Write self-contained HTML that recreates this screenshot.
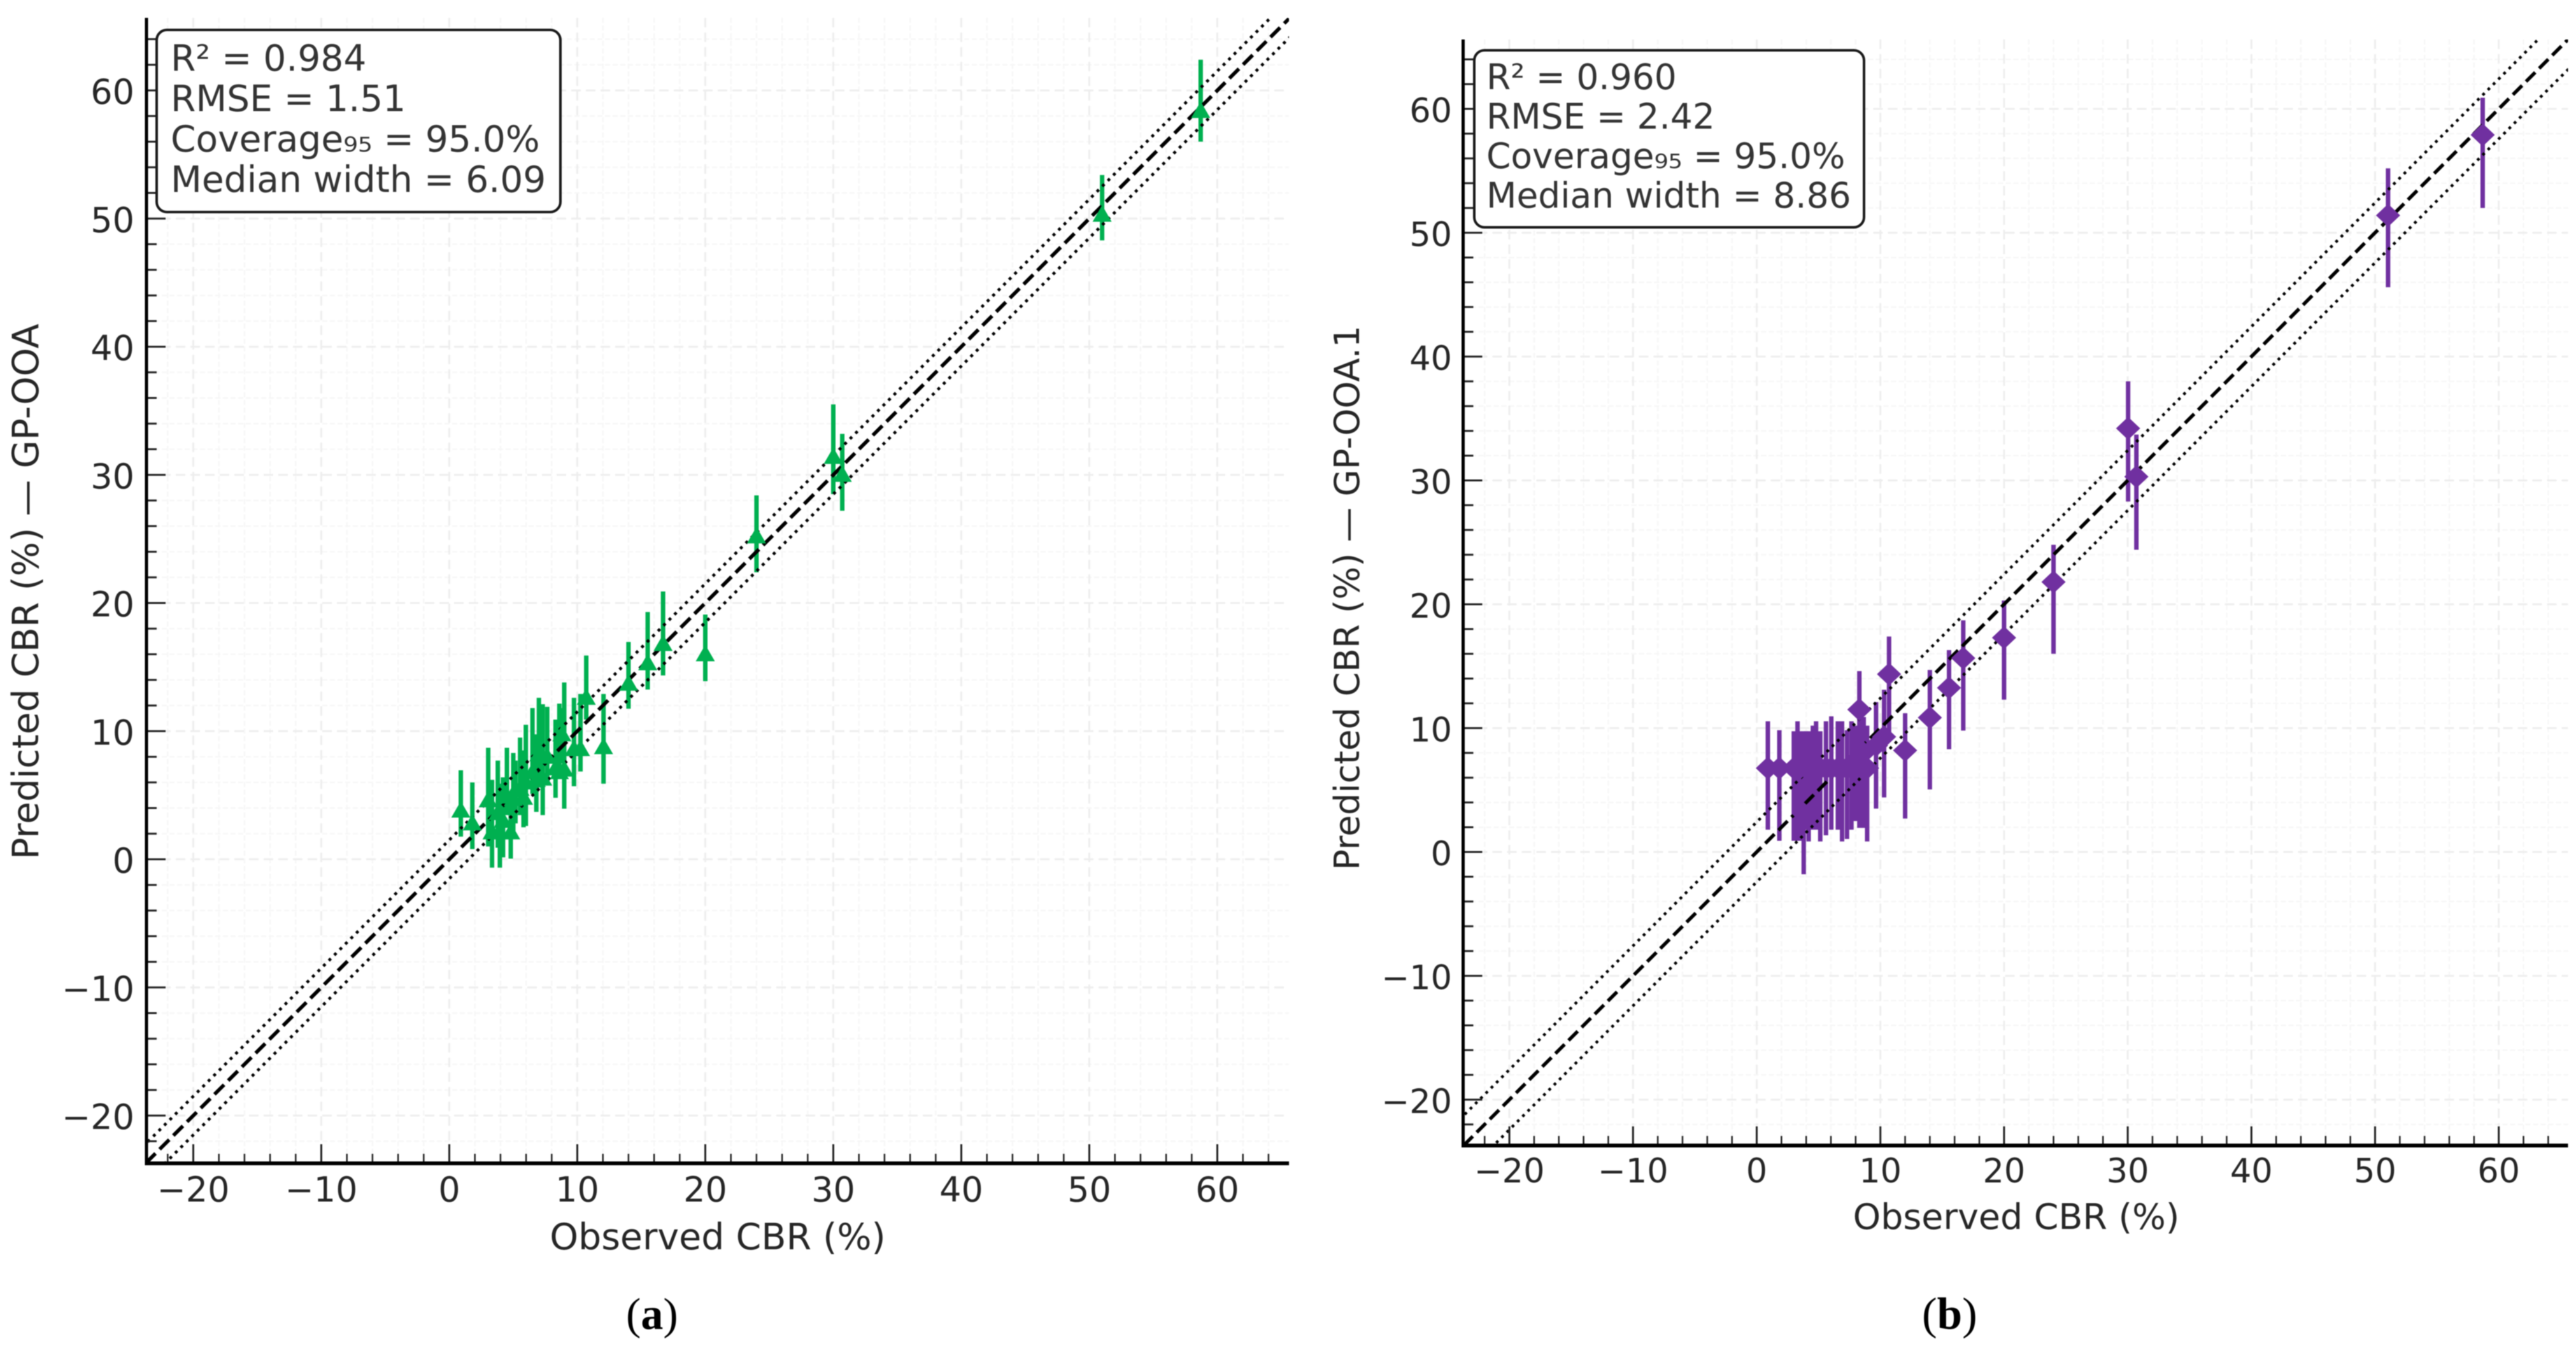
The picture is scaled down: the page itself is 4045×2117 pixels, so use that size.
<!DOCTYPE html>
<html lang="en">
<head>
<meta charset="utf-8">
<title>Observed vs predicted CBR: GP-OOA and GP-OOA.1</title>
<style>
html,body{margin:0;padding:0;background:#fff;}
svg{display:block;position:absolute;left:0;top:0;filter:blur(0.8px);}
text{font-family:"DejaVu Sans","Liberation Sans",sans-serif;}
.cap{font-family:"Liberation Serif",serif;fill:#000;}
</style>
</head>
<body>
<svg id="fig" xmlns="http://www.w3.org/2000/svg" width="4045" height="2117" viewBox="0 0 4045 2117">
  <rect x="0" y="0" width="4045" height="2117" fill="#ffffff"/>
  <g id="panel-a"></g>
  <g id="panel-b"></g>
  <text class="cap" x="983" y="2087" font-size="70">(<tspan font-weight="bold">a</tspan>)</text>
  <text class="cap" x="3018" y="2087" font-size="71">(<tspan font-weight="bold">b</tspan>)</text>
</svg>
<script>
// Shared tick labels
const majorTicks = [-20, -10, 0, 10, 20, 30, 40, 50, 60];
const minorTicks = [-22, -18, -16, -14, -12, -8, -6, -4, -2, 2, 4, 6, 8, 12, 14, 16, 18, 22, 24, 26, 28, 32, 34, 36, 38, 42, 44, 46, 48, 52, 54, 56, 58, 62, 64];

// Panel (a): GP-OOA
const aObserved  = [0.9, 1.8, 3.04, 3.34, 3.79, 3.95, 4.2, 4.5, 4.8, 5.0, 5.17, 5.53, 5.8, 5.98, 6.5, 6.8, 7.0, 7.3, 7.65, 8.3, 8.6, 8.8, 8.98, 9.74, 10.25, 10.7, 12.05, 14.0, 15.5, 16.7, 20.0, 24.0, 30.0, 30.7, 51.0, 58.7];
const aPredicted = [3.8, 2.8, 4.6, 2.1, 3.6, 2.1, 3.0, 4.9, 2.1, 4.7, 5.4, 5.5, 4.8, 6.0, 6.8, 6.2, 8.2, 6.3, 8.0, 7.1, 6.8, 9.75, 7.0, 8.6, 8.6, 12.6, 8.75, 13.7, 15.3, 16.8, 16.0, 25.2, 31.4, 30.0, 50.3, 58.4];
const aUpper     = [6.95, 6.0, 8.7, 6.2, 7.7, 5.9, 6.4, 8.7, 5.1, 8.3, 7.7, 9.5, 8.5, 10.5, 11.8, 9.75, 12.6, 12.1, 11.9, 10.9, 12.15, 11.8, 13.8, 12.6, 12.9, 15.9, 12.9, 16.96, 19.3, 20.9, 19.1, 28.4, 35.5, 33.2, 53.4, 62.4];
const aLower     = [1.77, 0.8, 1.0, -0.65, 0.9, -0.65, 0.15, 3.45, 0.05, 2.0, 2.8, 3.45, 2.5, 2.6, 5.1, 3.7, 5.6, 3.45, 5.8, 4.8, 6.8, 7.5, 3.95, 5.7, 6.85, 10.9, 5.9, 11.75, 13.25, 14.35, 13.9, 22.4, 28.5, 27.2, 48.3, 56.0];
const aBand = 1.51;
const aStats = ["R² = 0.984", "RMSE = 1.51", "Coverage₉₅ = 95.0%", "Median width = 6.09"];

// Panel (b): GP-OOA.1
const bObserved  = [0.9, 1.83, 3.0, 3.3, 3.5, 3.8, 4.0, 4.2, 4.54, 4.8, 5.14, 5.6, 6.03, 6.56, 6.9, 7.3, 7.66, 8.0, 8.3, 8.65, 8.93, 9.65, 10.3, 10.7, 12.0, 14.0, 15.55, 16.7, 20.0, 24.0, 30.03, 30.7, 51.05, 58.7];
const bPredicted = [6.77, 6.77, 6.77, 6.77, 6.77, 3.1, 6.77, 6.77, 6.77, 6.77, 6.77, 6.77, 6.77, 6.77, 6.77, 6.77, 6.77, 7.4, 11.5, 8.0, 6.77, 8.6, 9.3, 14.36, 8.2, 10.85, 13.25, 15.65, 17.3, 21.8, 34.2, 30.3, 51.4, 57.9];
const bUpper     = [10.55, 9.83, 9.75, 10.55, 9.75, 9.75, 9.75, 9.75, 10.2, 10.55, 9.75, 10.55, 10.95, 10.55, 10.55, 9.83, 10.55, 10.2, 14.6, 10.9, 10.2, 12.1, 13.1, 17.4, 11.2, 14.7, 16.3, 18.7, 20.3, 24.8, 38.0, 33.7, 55.2, 60.9];
const bLower     = [1.8, 0.9, 0.9, 0.9, 0.9, -1.8, 1.8, 0.85, 1.8, 1.8, 0.85, 1.35, 1.8, 1.8, 0.85, 1.05, 1.8, 2.5, 1.95, 1.95, 0.85, 3.5, 4.4, 9.3, 2.7, 5.05, 8.3, 9.8, 12.3, 16.0, 28.3, 24.4, 45.6, 52.0];
const bBand = 2.42;
const bStats = ["R² = 0.960", "RMSE = 2.42", "Coverage₉₅ = 95.0%", "Median width = 8.86"];

const NS = "http://www.w3.org/2000/svg";
const GREEN = "#00B050";
const PURPLE = "#7030A0";

function el(parent, tag, attrs, text) {
  const n = document.createElementNS(NS, tag);
  for (const k in attrs) n.setAttribute(k, attrs[k]);
  if (text !== undefined) n.textContent = text;
  parent.appendChild(n);
  return n;
}

function drawPanel(root, L, obs, pred, up, lo, band, stats, color, shape, ylabel) {
  const xPos = v => L.x0 + v * L.sx;
  const yPos = v => L.y0 - v * L.sy;
  const vMin = -23.7, vMax = 65.6;
  const left = L.left, right = xPos(vMax), top = L.top, bottom = L.bottom;
  const clipId = root.id + "-clip";
  const defs = el(root, "defs", {});
  const cp = el(defs, "clipPath", {id: clipId});
  el(cp, "rect", {x: left, y: top, width: right - left, height: bottom - top});

  // minor grid
  minorTicks.forEach(v => {
    const gv = el(root, "line", {x1: xPos(v), x2: xPos(v), y1: top, y2: bottom, stroke: "#f7f7f7", "stroke-width": 2.5, "stroke-dasharray": "8 4"});
    
    
    const gh = el(root, "line", {x1: left, x2: right, y1: yPos(v), y2: yPos(v), stroke: "#f7f7f7", "stroke-width": 2.5, "stroke-dasharray": "8 4"});
    
    
  });
  // major grid
  majorTicks.forEach(v => {
    const gv = el(root, "line", {x1: xPos(v), x2: xPos(v), y1: top, y2: bottom, stroke: "#eeeeee", "stroke-width": 3, "stroke-dasharray": "15 8"});
    
    
    const gh = el(root, "line", {x1: left, x2: right, y1: yPos(v), y2: yPos(v), stroke: "#eeeeee", "stroke-width": 3, "stroke-dasharray": "15 8"});
    
    
  });

  // error bars
  obs.forEach((v, i) => {
    const bar = el(root, "line", {x1: xPos(v), x2: xPos(v), y1: yPos(up[i]), y2: yPos(lo[i]), stroke: color, "stroke-width": 7});
    
    
  });

  // reference lines (above the error bars, below the markers)
  const refs = el(root, "g", {"clip-path": "url(#" + clipId + ")"});
  
  
  const ideal = el(refs, "line", {x1: xPos(vMin), y1: yPos(vMin), x2: xPos(vMax), y2: yPos(vMax), stroke: "#000", "stroke-width": L.dashW, "stroke-dasharray": (3.7 * L.dashW) + " " + (1.6 * L.dashW)});
  
  
  [band, -band].forEach(b => {
    const d = el(refs, "line", {x1: xPos(vMin - 5), y1: yPos(vMin - 5 + b), x2: xPos(vMax + 5), y2: yPos(vMax + 5 + b), stroke: "#000", "stroke-width": L.dot, "stroke-dasharray": L.dot + " " + (1.65 * L.dot)});
    
    
  });

  // markers
  obs.forEach((v, i) => {
    const cx = xPos(v), cy = yPos(pred[i]);
    const pts = shape === "triangle"
      ? [[cx, cy - 15], [cx + 15, cy + 11], [cx - 15, cy + 11]]
      : [[cx, cy - 18], [cx + 19, cy], [cx, cy + 18], [cx - 19, cy]];
    const m = el(root, "polygon", {points: pts.map(p => p.join(",")).join(" "), fill: color});
    
    
  });

  // ticks
  minorTicks.forEach(v => {
    const tx = el(root, "line", {x1: xPos(v), x2: xPos(v), y1: bottom, y2: bottom - 15, stroke: "#222", "stroke-width": 2.5});
    
    
    const ty = el(root, "line", {x1: left, x2: left + 16, y1: yPos(v), y2: yPos(v), stroke: "#222", "stroke-width": 3});
    
    
  });
  majorTicks.forEach(v => {
    const tx = el(root, "line", {x1: xPos(v), x2: xPos(v), y1: bottom, y2: bottom - 30, stroke: "#222", "stroke-width": 3});
    
    
    const ty = el(root, "line", {x1: left, x2: left + 30, y1: yPos(v), y2: yPos(v), stroke: "#222", "stroke-width": 3});
    
    
    const label = String(v).replace("-", "\u2212");
    const lx = el(root, "text", {x: xPos(v), y: L.xTickY, "text-anchor": "middle", "font-size": L.tickFont, fill: "#262626"}, label);
    
    
    const ly = el(root, "text", {x: L.yTickX, y: yPos(v) + L.yTickDy, "text-anchor": "end", "font-size": L.tickFont, fill: "#262626"}, label);
    
    
  });

  // spines
  const sl = el(root, "line", {x1: left, x2: left, y1: top, y2: bottom + 3, stroke: "#000", "stroke-width": 5});
  
  
  const sb = el(root, "line", {x1: left - 2.5, x2: right, y1: bottom, y2: bottom, stroke: "#000", "stroke-width": 6});
  
  

  // axis titles
  const xt = el(root, "text", {x: L.xTitleX, y: L.xTitleY, "text-anchor": "middle", "font-size": L.xTitleFont, fill: "#262626"}, "Observed CBR (%)");
  
  
  const yt = el(root, "text", {x: 0, y: 0, transform: "translate(" + L.yTitleX + "," + L.yTitleY + ") rotate(-90)", "text-anchor": "middle", "font-size": L.yTitleFont, fill: "#262626"}, ylabel);
  
  

  // stats box
  const box = el(root, "rect", {x: L.box[0], y: L.box[1], width: L.box[2] - L.box[0], height: L.box[3] - L.box[1], rx: 16, ry: 16, fill: "#fff", stroke: "#1a1a1a", "stroke-width": 4});
  
  
  stats.forEach((s, i) => {
    const t = el(root, "text", {x: L.statX, y: L.statY + i * L.statStep, "font-size": L.statFont, fill: "#333"}, s);
    
    
  });
}

drawPanel(document.getElementById("panel-a"),
  {x0: 705.5, sx: 20.1, y0: 1349.5, sy: 20.125, left: 230, top: 28, bottom: 1827, dot: 4.6, dashW: 5.75,
   tickFont: 54, xTickY: 1887, yTickX: 211, yTickDy: 21, xTitleFont: 57, yTitleFont: 57, xTitleX: 1127, xTitleY: 1962, yTitleX: 60, yTitleY: 929,
   box: [246, 47, 880, 333], statX: 268, statY: 111, statStep: 63.5, statFont: 56.6},
  aObserved, aPredicted, aUpper, aLower, aBand, aStats, GREEN, "triangle", "Predicted CBR (%) — GP-OOA");

drawPanel(document.getElementById("panel-b"),
  {x0: 2758.5, sx: 19.42, y0: 1338, sy: 19.45, left: 2297.5, top: 62, bottom: 1799, dot: 4.4, dashW: 5.5,
   tickFont: 52.5, xTickY: 1857, yTickX: 2280, yTickDy: 21, xTitleFont: 55.4, yTitleFont: 54.5, xTitleX: 3166, xTitleY: 1930, yTitleX: 2134, yTitleY: 939,
   box: [2315, 79, 2927, 357], statX: 2334, statY: 140, statStep: 62, statFont: 55},
  bObserved, bPredicted, bUpper, bLower, bBand, bStats, PURPLE, "diamond", "Predicted CBR (%) — GP-OOA.1");
</script>
</body>
</html>
